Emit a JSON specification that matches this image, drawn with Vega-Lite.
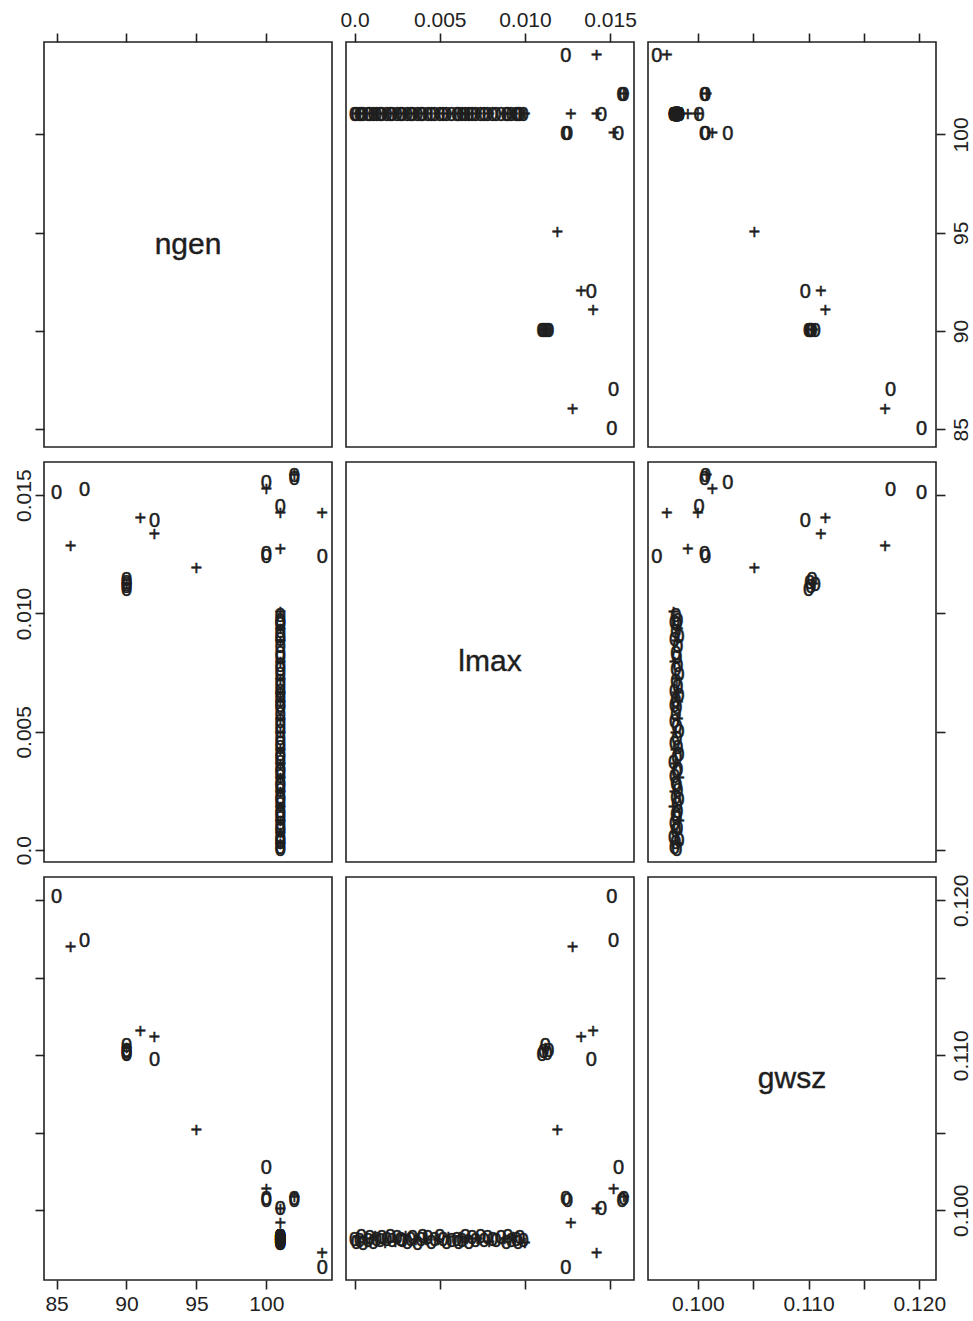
{
  "$schema": "https://vega.github.io/schema/vega-lite/v6.json",
  "background": "white",
  "padding": {"left": 12, "top": 8, "right": 5, "bottom": 5},
  "columns": 3,
  "align": "each",
  "bounds": "flush",
  "spacing": {"row": 15, "column": 14},
  "resolve": {"scale": {"x": "independent", "y": "independent"}},
  "config": {
    "view": {"stroke": "#222", "strokeWidth": 1.6},
    "axis": {"domain": false, "grid": false, "tickColor": "#222", "tickWidth": 1.6, "tickSize": 9, "labelFont": "Liberation Sans", "labelFontSize": 21, "labelColor": "#222", "labelOverlap": false, "labelBound": false, "labelFlush": false},
    "text": {"font": "Liberation Sans", "fill": "#1e1e1e"}
  },
  "datasets": {
    "obs": [
      {"ngen": 85, "lmax": 0.0151, "gwsz": 0.1202, "sym": "0"},
      {"ngen": 86, "lmax": 0.0128, "gwsz": 0.1169, "sym": "+"},
      {"ngen": 87, "lmax": 0.0152, "gwsz": 0.1174, "sym": "0"},
      {"ngen": 90, "lmax": 0.0110, "gwsz": 0.1100, "sym": "0"},
      {"ngen": 90, "lmax": 0.0111, "gwsz": 0.1102, "sym": "0"},
      {"ngen": 90, "lmax": 0.0112, "gwsz": 0.1104, "sym": "+"},
      {"ngen": 90, "lmax": 0.0113, "gwsz": 0.1101, "sym": "0"},
      {"ngen": 90, "lmax": 0.0112, "gwsz": 0.1106, "sym": "0"},
      {"ngen": 90, "lmax": 0.0114, "gwsz": 0.1103, "sym": "0"},
      {"ngen": 91, "lmax": 0.0140, "gwsz": 0.1115, "sym": "+"},
      {"ngen": 92, "lmax": 0.0133, "gwsz": 0.1111, "sym": "+"},
      {"ngen": 92, "lmax": 0.0139, "gwsz": 0.1097, "sym": "0"},
      {"ngen": 95, "lmax": 0.0119, "gwsz": 0.1051, "sym": "+"},
      {"ngen": 100, "lmax": 0.0155, "gwsz": 0.1027, "sym": "0"},
      {"ngen": 100, "lmax": 0.0152, "gwsz": 0.1013, "sym": "+"},
      {"ngen": 100, "lmax": 0.0124, "gwsz": 0.1007, "sym": "0"},
      {"ngen": 100, "lmax": 0.0125, "gwsz": 0.1006, "sym": "0"},
      {"ngen": 101, "lmax": 0.0145, "gwsz": 0.1001, "sym": "0"},
      {"ngen": 101, "lmax": 0.0142, "gwsz": 0.1000, "sym": "+"},
      {"ngen": 101, "lmax": 0.0127, "gwsz": 0.0991, "sym": "+"},
      {"ngen": 102, "lmax": 0.0158, "gwsz": 0.1007, "sym": "0"},
      {"ngen": 102, "lmax": 0.0158, "gwsz": 0.1008, "sym": "+"},
      {"ngen": 102, "lmax": 0.0157, "gwsz": 0.1006, "sym": "0"},
      {"ngen": 104, "lmax": 0.0142, "gwsz": 0.0972, "sym": "+"},
      {"ngen": 104, "lmax": 0.0124, "gwsz": 0.0963, "sym": "0"},
      {"ngen": 101, "lmax": 0.0000, "gwsz": 0.0981, "sym": "0"},
      {"ngen": 101, "lmax": 0.0001, "gwsz": 0.0979, "sym": "0"},
      {"ngen": 101, "lmax": 0.0002, "gwsz": 0.0982, "sym": "+"},
      {"ngen": 101, "lmax": 0.0003, "gwsz": 0.0980, "sym": "0"},
      {"ngen": 101, "lmax": 0.0004, "gwsz": 0.0983, "sym": "0"},
      {"ngen": 101, "lmax": 0.0005, "gwsz": 0.0978, "sym": "0"},
      {"ngen": 101, "lmax": 0.0007, "gwsz": 0.0981, "sym": "+"},
      {"ngen": 101, "lmax": 0.0008, "gwsz": 0.0980, "sym": "0"},
      {"ngen": 101, "lmax": 0.0009, "gwsz": 0.0982, "sym": "0"},
      {"ngen": 101, "lmax": 0.0011, "gwsz": 0.0979, "sym": "0"},
      {"ngen": 101, "lmax": 0.0012, "gwsz": 0.0983, "sym": "+"},
      {"ngen": 101, "lmax": 0.0013, "gwsz": 0.0981, "sym": "0"},
      {"ngen": 101, "lmax": 0.0015, "gwsz": 0.0980, "sym": "0"},
      {"ngen": 101, "lmax": 0.0016, "gwsz": 0.0982, "sym": "0"},
      {"ngen": 101, "lmax": 0.0018, "gwsz": 0.0978, "sym": "+"},
      {"ngen": 101, "lmax": 0.0019, "gwsz": 0.0981, "sym": "0"},
      {"ngen": 101, "lmax": 0.0021, "gwsz": 0.0983, "sym": "0"},
      {"ngen": 101, "lmax": 0.0022, "gwsz": 0.0980, "sym": "0"},
      {"ngen": 101, "lmax": 0.0024, "gwsz": 0.0979, "sym": "+"},
      {"ngen": 101, "lmax": 0.0025, "gwsz": 0.0982, "sym": "0"},
      {"ngen": 101, "lmax": 0.0027, "gwsz": 0.0981, "sym": "0"},
      {"ngen": 101, "lmax": 0.0028, "gwsz": 0.0980, "sym": "0"},
      {"ngen": 101, "lmax": 0.0030, "gwsz": 0.0983, "sym": "+"},
      {"ngen": 101, "lmax": 0.0031, "gwsz": 0.0979, "sym": "0"},
      {"ngen": 101, "lmax": 0.0033, "gwsz": 0.0981, "sym": "0"},
      {"ngen": 101, "lmax": 0.0034, "gwsz": 0.0982, "sym": "0"},
      {"ngen": 101, "lmax": 0.0036, "gwsz": 0.0980, "sym": "+"},
      {"ngen": 101, "lmax": 0.0037, "gwsz": 0.0978, "sym": "0"},
      {"ngen": 101, "lmax": 0.0039, "gwsz": 0.0981, "sym": "0"},
      {"ngen": 101, "lmax": 0.0040, "gwsz": 0.0983, "sym": "0"},
      {"ngen": 101, "lmax": 0.0042, "gwsz": 0.0980, "sym": "+"},
      {"ngen": 101, "lmax": 0.0043, "gwsz": 0.0982, "sym": "0"},
      {"ngen": 101, "lmax": 0.0045, "gwsz": 0.0979, "sym": "0"},
      {"ngen": 101, "lmax": 0.0047, "gwsz": 0.0981, "sym": "0"},
      {"ngen": 101, "lmax": 0.0049, "gwsz": 0.0980, "sym": "+"},
      {"ngen": 101, "lmax": 0.0050, "gwsz": 0.0983, "sym": "0"},
      {"ngen": 101, "lmax": 0.0052, "gwsz": 0.0981, "sym": "0"},
      {"ngen": 101, "lmax": 0.0054, "gwsz": 0.0979, "sym": "0"},
      {"ngen": 101, "lmax": 0.0055, "gwsz": 0.0982, "sym": "+"},
      {"ngen": 101, "lmax": 0.0057, "gwsz": 0.0980, "sym": "0"},
      {"ngen": 101, "lmax": 0.0060, "gwsz": 0.0981, "sym": "0"},
      {"ngen": 101, "lmax": 0.0061, "gwsz": 0.0979, "sym": "0"},
      {"ngen": 101, "lmax": 0.0062, "gwsz": 0.0982, "sym": "+"},
      {"ngen": 101, "lmax": 0.0063, "gwsz": 0.0980, "sym": "0"},
      {"ngen": 101, "lmax": 0.0065, "gwsz": 0.0983, "sym": "0"},
      {"ngen": 101, "lmax": 0.0066, "gwsz": 0.0981, "sym": "+"},
      {"ngen": 101, "lmax": 0.0067, "gwsz": 0.0979, "sym": "0"},
      {"ngen": 101, "lmax": 0.0069, "gwsz": 0.0982, "sym": "0"},
      {"ngen": 101, "lmax": 0.0071, "gwsz": 0.0980, "sym": "0"},
      {"ngen": 101, "lmax": 0.0072, "gwsz": 0.0981, "sym": "+"},
      {"ngen": 101, "lmax": 0.0074, "gwsz": 0.0983, "sym": "0"},
      {"ngen": 101, "lmax": 0.0076, "gwsz": 0.0980, "sym": "0"},
      {"ngen": 101, "lmax": 0.0078, "gwsz": 0.0982, "sym": "0"},
      {"ngen": 101, "lmax": 0.0079, "gwsz": 0.0979, "sym": "+"},
      {"ngen": 101, "lmax": 0.0081, "gwsz": 0.0981, "sym": "0"},
      {"ngen": 101, "lmax": 0.0083, "gwsz": 0.0980, "sym": "0"},
      {"ngen": 101, "lmax": 0.0086, "gwsz": 0.0982, "sym": "0"},
      {"ngen": 101, "lmax": 0.0088, "gwsz": 0.0981, "sym": "+"},
      {"ngen": 101, "lmax": 0.0089, "gwsz": 0.0979, "sym": "0"},
      {"ngen": 101, "lmax": 0.0090, "gwsz": 0.0983, "sym": "0"},
      {"ngen": 101, "lmax": 0.0092, "gwsz": 0.0980, "sym": "0"},
      {"ngen": 101, "lmax": 0.0093, "gwsz": 0.0982, "sym": "+"},
      {"ngen": 101, "lmax": 0.0095, "gwsz": 0.0981, "sym": "0"},
      {"ngen": 101, "lmax": 0.0096, "gwsz": 0.0979, "sym": "0"},
      {"ngen": 101, "lmax": 0.0097, "gwsz": 0.0982, "sym": "0"},
      {"ngen": 101, "lmax": 0.0099, "gwsz": 0.0980, "sym": "0"},
      {"ngen": 101, "lmax": 0.0100, "gwsz": 0.0978, "sym": "+"}
    ],
    "labels": [
      {"label": "ngen", "ngen": 94.4},
      {"label": "lmax", "lmax": 0.00795},
      {"label": "gwsz", "gwsz": 0.1085}
    ]
  },
  "concat": [
    {
      "width": 288, "height": 405,
      "data": {"name": "labels"},
      "transform": [{"filter": "datum.label == 'ngen'"}],
      "mark": {"type": "text", "fontSize": 30, "align": "center", "baseline": "middle", "fill": "#1e1e1e", "stroke": "#1e1e1e", "strokeWidth": 0.4},
      "encoding": {
        "x": {"field": "ngen", "type": "quantitative", "title": null, "scale": {"domain": [84.1, 104.7], "nice": false, "zero": false}, "axis": {"orient": "top", "values": [85, 90, 95, 100], "labels": false}},
        "y": {"field": "ngen", "type": "quantitative", "title": null, "scale": {"domain": [84.1, 104.7], "nice": false, "zero": false}, "axis": {"orient": "left", "values": [85, 90, 95, 100], "labels": false}},
        "text": {"field": "label"}
      }
    },
    {
      "width": 288, "height": 405,
      "data": {"name": "obs"},
      "mark": {"type": "text", "fontSize": 20, "align": "center", "baseline": "middle", "fill": "#1e1e1e", "stroke": "#1e1e1e", "strokeWidth": 0.5},
      "encoding": {
        "x": {"field": "lmax", "type": "quantitative", "title": null, "scale": {"domain": [-0.0005, 0.0164], "nice": false, "zero": false}, "axis": {"orient": "top", "values": [0, 0.005, 0.01, 0.015], "labelPadding": 3, "labelExpr": "datum.value == 0 ? '0.0' : format(datum.value, '.3f')"}},
        "y": {"field": "ngen", "type": "quantitative", "title": null, "scale": {"domain": [84.1, 104.7], "nice": false, "zero": false}, "axis": null},
        "text": {"field": "sym"}
      }
    },
    {
      "width": 288, "height": 405,
      "data": {"name": "obs"},
      "mark": {"type": "text", "fontSize": 20, "align": "center", "baseline": "middle", "fill": "#1e1e1e", "stroke": "#1e1e1e", "strokeWidth": 0.5},
      "encoding": {
        "x": {"field": "gwsz", "type": "quantitative", "title": null, "scale": {"domain": [0.0955, 0.1215], "nice": false, "zero": false}, "axis": {"orient": "top", "values": [0.1, 0.105, 0.11, 0.115, 0.12], "labels": false}},
        "y": {"field": "ngen", "type": "quantitative", "title": null, "scale": {"domain": [84.1, 104.7], "nice": false, "zero": false}, "axis": {"orient": "right", "values": [85, 90, 95, 100], "labelAngle": -90, "labelAlign": "center", "labelBaseline": "top", "labelPadding": 5}},
        "text": {"field": "sym"}
      }
    },
    {
      "width": 288, "height": 400,
      "data": {"name": "obs"},
      "mark": {"type": "text", "fontSize": 20, "align": "center", "baseline": "middle", "fill": "#1e1e1e", "stroke": "#1e1e1e", "strokeWidth": 0.5},
      "encoding": {
        "x": {"field": "ngen", "type": "quantitative", "title": null, "scale": {"domain": [84.1, 104.7], "nice": false, "zero": false}, "axis": null},
        "y": {"field": "lmax", "type": "quantitative", "title": null, "scale": {"domain": [-0.0005, 0.0164], "nice": false, "zero": false}, "axis": {"orient": "left", "values": [0, 0.005, 0.01, 0.015], "labelAngle": -90, "labelAlign": "center", "labelBaseline": "bottom", "labelPadding": 1, "labelExpr": "datum.value == 0 ? '0.0' : format(datum.value, '.3f')"}},
        "text": {"field": "sym"}
      }
    },
    {
      "width": 288, "height": 400,
      "data": {"name": "labels"},
      "transform": [{"filter": "datum.label == 'lmax'"}],
      "mark": {"type": "text", "fontSize": 30, "align": "center", "baseline": "middle", "fill": "#1e1e1e", "stroke": "#1e1e1e", "strokeWidth": 0.4},
      "encoding": {
        "x": {"field": "lmax", "type": "quantitative", "title": null, "scale": {"domain": [-0.0005, 0.0164], "nice": false, "zero": false}, "axis": null},
        "y": {"field": "lmax", "type": "quantitative", "title": null, "scale": {"domain": [-0.0005, 0.0164], "nice": false, "zero": false}, "axis": null},
        "text": {"field": "label"}
      }
    },
    {
      "width": 288, "height": 400,
      "data": {"name": "obs"},
      "mark": {"type": "text", "fontSize": 20, "align": "center", "baseline": "middle", "fill": "#1e1e1e", "stroke": "#1e1e1e", "strokeWidth": 0.5},
      "encoding": {
        "x": {"field": "gwsz", "type": "quantitative", "title": null, "scale": {"domain": [0.0955, 0.1215], "nice": false, "zero": false}, "axis": null},
        "y": {"field": "lmax", "type": "quantitative", "title": null, "scale": {"domain": [-0.0005, 0.0164], "nice": false, "zero": false}, "axis": {"orient": "right", "values": [0, 0.005, 0.01, 0.015], "labels": false}},
        "text": {"field": "sym"}
      }
    },
    {
      "width": 288, "height": 403,
      "data": {"name": "obs"},
      "mark": {"type": "text", "fontSize": 20, "align": "center", "baseline": "middle", "fill": "#1e1e1e", "stroke": "#1e1e1e", "strokeWidth": 0.5},
      "encoding": {
        "x": {"field": "ngen", "type": "quantitative", "title": null, "scale": {"domain": [84.1, 104.7], "nice": false, "zero": false}, "axis": {"orient": "bottom", "values": [85, 90, 95, 100], "labelPadding": 4}},
        "y": {"field": "gwsz", "type": "quantitative", "title": null, "scale": {"domain": [0.0955, 0.1215], "nice": false, "zero": false}, "axis": {"orient": "left", "values": [0.1, 0.105, 0.11, 0.115, 0.12], "labels": false}},
        "text": {"field": "sym"}
      }
    },
    {
      "width": 288, "height": 403,
      "data": {"name": "obs"},
      "mark": {"type": "text", "fontSize": 20, "align": "center", "baseline": "middle", "fill": "#1e1e1e", "stroke": "#1e1e1e", "strokeWidth": 0.5},
      "encoding": {
        "x": {"field": "lmax", "type": "quantitative", "title": null, "scale": {"domain": [-0.0005, 0.0164], "nice": false, "zero": false}, "axis": {"orient": "bottom", "values": [0, 0.005, 0.01, 0.015], "labels": false}},
        "y": {"field": "gwsz", "type": "quantitative", "title": null, "scale": {"domain": [0.0955, 0.1215], "nice": false, "zero": false}, "axis": null},
        "text": {"field": "sym"}
      }
    },
    {
      "width": 288, "height": 403,
      "data": {"name": "labels"},
      "transform": [{"filter": "datum.label == 'gwsz'"}],
      "mark": {"type": "text", "fontSize": 30, "align": "center", "baseline": "middle", "fill": "#1e1e1e", "stroke": "#1e1e1e", "strokeWidth": 0.4},
      "encoding": {
        "x": {"field": "gwsz", "type": "quantitative", "title": null, "scale": {"domain": [0.0955, 0.1215], "nice": false, "zero": false}, "axis": {"orient": "bottom", "values": [0.1, 0.105, 0.11, 0.115, 0.12], "labelPadding": 4, "labelExpr": "abs(datum.value - 0.105) < 0.0001 || abs(datum.value - 0.115) < 0.0001 ? '' : format(datum.value, '.3f')"}},
        "y": {"field": "gwsz", "type": "quantitative", "title": null, "scale": {"domain": [0.0955, 0.1215], "nice": false, "zero": false}, "axis": {"orient": "right", "values": [0.1, 0.105, 0.11, 0.115, 0.12], "labelAngle": -90, "labelAlign": "center", "labelBaseline": "top", "labelPadding": 5, "labelExpr": "abs(datum.value - 0.105) < 0.0001 || abs(datum.value - 0.115) < 0.0001 ? '' : format(datum.value, '.3f')"}},
        "text": {"field": "label"}
      }
    }
  ]
}
